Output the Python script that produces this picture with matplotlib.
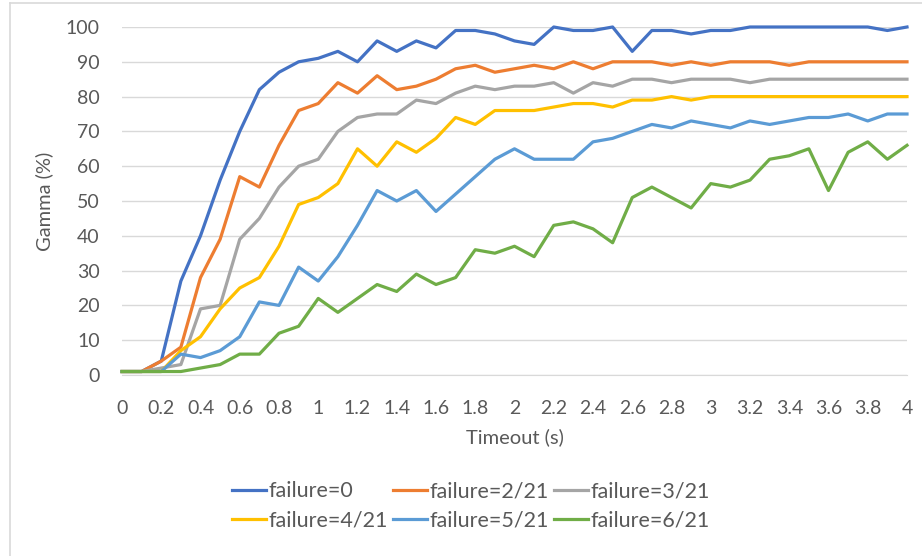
import numpy as np
import matplotlib
matplotlib.use("Agg")
import matplotlib.pyplot as plt
from matplotlib.lines import Line2D

plt.rcParams['font.family'] = ['Lato', 'DejaVu Sans']

# timeout values, 0 .. 4 s in steps of 0.1
timeout = [round(i * 0.1, 1) for i in range(41)]
tick_labels = ["0", "0.2", "0.4", "0.6", "0.8", "1", "1.2", "1.4", "1.6", "1.8", "2",
               "2.2", "2.4", "2.6", "2.8", "3", "3.2", "3.4", "3.6", "3.8", "4"]

fail_0 = [1, 1, 4, 27, 40, 56, 70, 82, 87, 90, 91, 93, 90, 96, 93, 96, 94, 99, 99, 98, 96,
          95, 100, 99, 99, 100, 93, 99, 99, 98, 99, 99, 100, 100, 100, 100, 100, 100, 100, 99, 100]
fail_2 = [1, 1, 4, 8, 28, 39, 57, 54, 66, 76, 78, 84, 81, 86, 82, 83, 85, 88, 89, 87, 88,
          89, 88, 90, 88, 90, 90, 90, 89, 90, 89, 90, 90, 90, 89, 90, 90, 90, 90, 90, 90]
fail_3 = [1, 1, 2, 3, 19, 20, 39, 45, 54, 60, 62, 70, 74, 75, 75, 79, 78, 81, 83, 82, 83,
          83, 84, 81, 84, 83, 85, 85, 84, 85, 85, 85, 84, 85, 85, 85, 85, 85, 85, 85, 85]
fail_4 = [1, 1, 1, 7, 11, 19, 25, 28, 37, 49, 51, 55, 65, 60, 67, 64, 68, 74, 72, 76, 76,
          76, 77, 78, 78, 77, 79, 79, 80, 79, 80, 80, 80, 80, 80, 80, 80, 80, 80, 80, 80]
fail_5 = [1, 1, 1, 6, 5, 7, 11, 21, 20, 31, 27, 34, 43, 53, 50, 53, 47, 52, 57, 62, 65,
          62, 62, 62, 67, 68, 70, 72, 71, 73, 72, 71, 73, 72, 73, 74, 74, 75, 73, 75, 75]
fail_6 = [1, 1, 1, 1, 2, 3, 6, 6, 12, 14, 22, 18, 22, 26, 24, 29, 26, 28, 36, 35, 37,
          34, 43, 44, 42, 38, 51, 54, 51, 48, 55, 54, 56, 62, 63, 65, 53, 64, 67, 62, 66]

names = ["failure=0", "failure=2/21", "failure=3/21",
         "failure=4/21", "failure=5/21", "failure=6/21"]
colors = ["#4472C4", "#ED7D31", "#A5A5A5", "#FFC000", "#5B9BD5", "#70AD47"]
series = [fail_0, fail_2, fail_3, fail_4, fail_5, fail_6]

txt = "#595959"
fs = 14.5

fig = plt.figure(figsize=(9.22, 5.56), dpi=100)
ax = fig.add_axes([122 / 922, 1 - 375 / 556, (907 - 122) / 922, (375 - 27) / 556])

handles = []
for y, c, n in zip(series, colors, names):
    h, = ax.plot(timeout, y, color=c, lw=2.3, label=n, clip_on=False,
                 solid_joinstyle="round", zorder=3)
    handles.append(h)

ax.set_xlim(0, 4)
ax.set_ylim(0, 100)
ax.set_yticks(range(0, 101, 10))
ax.set_xticks([i * 0.2 for i in range(21)])
ax.set_xticklabels(tick_labels)
ax.tick_params(length=0, labelsize=14, colors=txt)
ax.tick_params(axis="x", pad=18)
ax.tick_params(axis="y", pad=16)
ax.grid(axis="y", color="#D9D9D9", lw=1)
ax.set_axisbelow(True)
for s in ["top", "right", "left"]:
    ax.spines[s].set_visible(False)
ax.spines["bottom"].set_color("#D9D9D9")

ax.set_xlabel("Timeout (s)", fontsize=fs, color=txt, labelpad=8)
ax.set_ylabel("Gamma (%)", fontsize=fs, color=txt, labelpad=9)

# legend rows: 0, 2/21, 3/21 then 4/21, 5/21, 6/21
order = [0, 3, 1, 4, 2, 5]
leg = fig.legend([handles[i] for i in order], [names[i] for i in order],
                 ncol=3, loc="center", bbox_to_anchor=(471 / 922, 1 - 506 / 556),
                 frameon=False, fontsize=15.5, handlelength=1.58, handletextpad=0.1,
                 columnspacing=0.25, labelspacing=0.45)
for t in leg.get_texts():
    t.set_color(txt)

# chart area border (left and top visible)
fig.add_artist(Line2D([10 / 922, 10 / 922], [0, 1 - 3 / 556], color="#D9D9D9", lw=1.2))
fig.add_artist(Line2D([10 / 922, 1], [1 - 3 / 556, 1 - 3 / 556], color="#D9D9D9", lw=1.2))

fig.savefig("out.png", dpi=100)
